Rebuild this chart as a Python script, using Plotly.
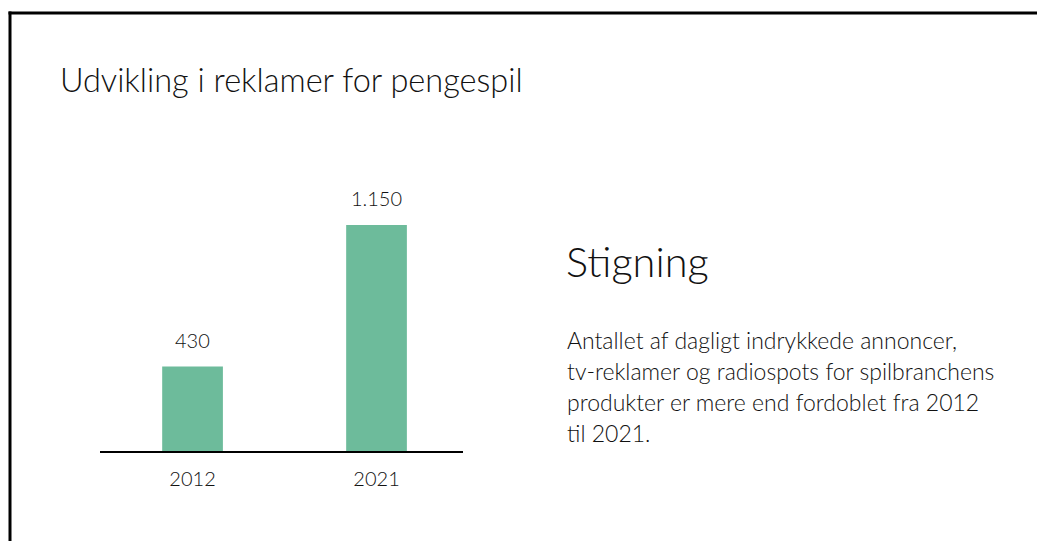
import plotly.graph_objects as go

W, H = 1037, 541

years = ["2012", "2021"]
values = [430, 1150]

title_text = "Udvikling i reklamer for pengespil"
side_heading = "Stigning"
side_lines = [
    "Antallet af dagligt indrykkede annoncer,",
    "tv-reklamer og radiospots for spilbranchens",
    "produkter er mere end fordoblet fra 2012",
    "til 2021.",
]

FONT = "Lato"
BAR_COLOR = "#6dbb9b"
TEXT_COLOR = "#111111"

def px_x(p):
    return p / W

def px_y(p):
    return 1 - p / H

fig = go.Figure()
fig.add_trace(go.Bar(
    x=years, y=values, marker=dict(color=BAR_COLOR, line=dict(width=0)),
    width=0.33, hoverinfo="skip",
))

# value labels above bars
for i, v in enumerate(values):
    fig.add_annotation(
        x=i, y=v, xref="x", yref="y",
        text=f"{v:,}".replace(",", "."),
        showarrow=False, yanchor="bottom", yshift=13,
        font=dict(family=FONT, size=20, color=TEXT_COLOR, weight=300),
    )

fig.add_annotation(
    x=px_x(58), y=px_y(80), xref="paper", yref="paper",
    text=title_text, showarrow=False, xanchor="left", yanchor="middle",
    font=dict(family=FONT, size=32.5, color=TEXT_COLOR, weight=300),
)
fig.add_annotation(
    x=px_x(564), y=px_y(261), xref="paper", yref="paper",
    text=side_heading, showarrow=False, xanchor="left", yanchor="middle",
    font=dict(family=FONT, size=41.5, color=TEXT_COLOR, weight=300),
)
for i, line in enumerate(side_lines):
    fig.add_annotation(
        x=px_x(565), y=px_y(340 + 31 * i), xref="paper", yref="paper",
        text=line, showarrow=False, xanchor="left", yanchor="middle",
        font=dict(family=FONT, size=23, color=TEXT_COLOR, weight=300),
    )

# frame lines
fig.add_shape(type="line", xref="paper", yref="paper",
              x0=px_x(8.5), x1=1.01, y0=px_y(13), y1=px_y(13),
              line=dict(color="black", width=3))
fig.add_shape(type="line", xref="paper", yref="paper",
              x0=px_x(10), x1=px_x(10), y0=px_y(11.5), y1=-0.01,
              line=dict(color="black", width=3))

fig.update_layout(
    width=W, height=H, autosize=False,
    margin=dict(l=0, r=0, t=0, b=0),
    paper_bgcolor="white", plot_bgcolor="white",
    showlegend=False,
    font=dict(family=FONT, color=TEXT_COLOR, weight=300),
    xaxis=dict(
        domain=[px_x(100), px_x(463)],
        type="category", range=[-0.503, 1.47],
        showline=True, linecolor="black", linewidth=2,
        showgrid=False, zeroline=False, ticks="",
        tickfont=dict(family=FONT, size=20, color=TEXT_COLOR, weight=300),
        ticklabelstandoff=9,
        fixedrange=True,
    ),
    yaxis=dict(
        domain=[px_y(451), px_y(180)],
        range=[0, 1379],
        visible=False, showgrid=False, zeroline=False,
        fixedrange=True,
    ),
)

fig.write_html(
    "out.html",
    config={"displayModeBar": False},
    post_script="document.body.style.margin='0';document.body.style.overflow='hidden';",
)
